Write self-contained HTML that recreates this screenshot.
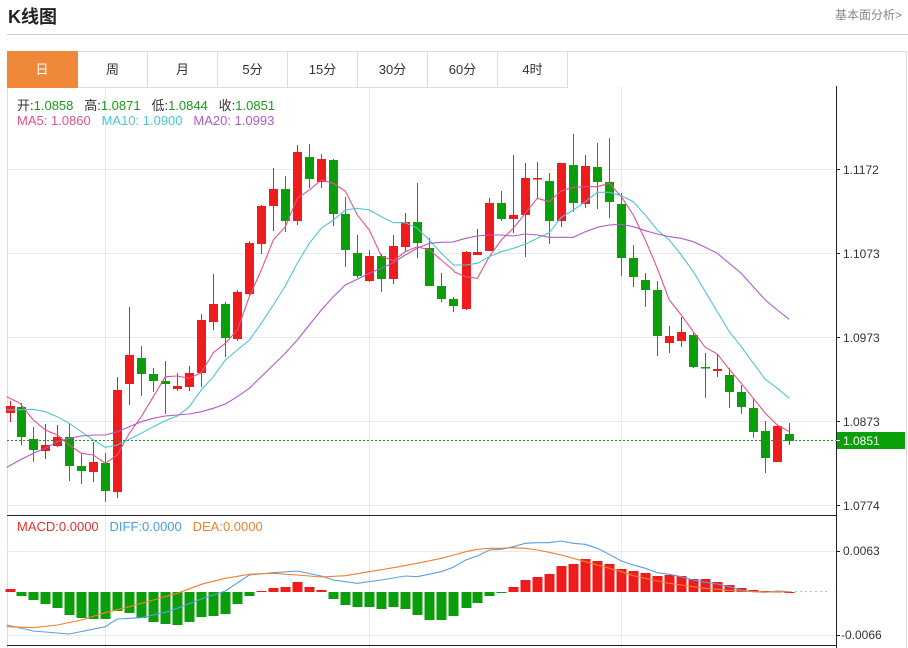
<!DOCTYPE html>
<html><head><meta charset="utf-8">
<style>
body{margin:0;width:908px;height:648px;overflow:hidden;background:#fff;font-family:"Liberation Sans","Noto Sans CJK SC",sans-serif;position:relative}
.t{position:absolute;left:8px;top:3px;font-size:18px;font-weight:bold;color:#222}
.r{position:absolute;right:6px;top:6px;font-size:12px;color:#888}
.hl{position:absolute;left:7px;right:0;top:34px;border-top:1px solid #ccc}
.tabs{position:absolute;left:7px;top:51px;height:35px;display:flex}
.tabs div{width:69px;height:35px;border:1px solid #ddd;border-left:none;line-height:35px;text-align:center;font-size:13px;color:#333}
.tabs div.a{background:#f0883a;color:#fff;border-color:#f0883a;width:70px}
.lg{position:absolute;left:17px;font-size:13px;white-space:nowrap}
</style></head><body>
<div class="t">K线图</div><div class="r">基本面分析&gt;</div><div class="hl"></div>
<svg id="s" width="908" height="648" style="position:absolute;left:0;top:0">
<rect x="7.5" y="51.5" width="899" height="600" fill="none" stroke="#ddd"/>
<g stroke="#e6e9ee" stroke-width="1">
<line x1="7" y1="169.5" x2="836" y2="169.5"/><line x1="7" y1="253.5" x2="836" y2="253.5"/>
<line x1="7" y1="337.5" x2="836" y2="337.5"/><line x1="7" y1="421.5" x2="836" y2="421.5"/>
<line x1="7" y1="505.5" x2="836" y2="505.5"/>
<line x1="7" y1="551.5" x2="836" y2="551.5"/><line x1="7" y1="635.5" x2="836" y2="635.5"/>
<line x1="105.5" y1="86" x2="105.5" y2="648"/><line x1="369.5" y1="86" x2="369.5" y2="648"/><line x1="621.5" y1="86" x2="621.5" y2="648"/>
</g>
<line x1="7" y1="515.5" x2="836" y2="515.5" stroke="#222"/>
<line x1="7" y1="645.5" x2="836" y2="645.5" stroke="#222"/>
<line x1="836.5" y1="86" x2="836.5" y2="648" stroke="#222"/>
<g id="cd"></g>
<g id="ml"></g>
<line x1="7" y1="440.5" x2="836" y2="440.5" stroke="#1a9c1a" stroke-dasharray="2,2"/>
<g stroke="#222"><line x1="836" y1="169.5" x2="840" y2="169.5"/><line x1="836" y1="253.5" x2="840" y2="253.5"/><line x1="836" y1="337.5" x2="840" y2="337.5"/><line x1="836" y1="421.5" x2="840" y2="421.5"/><line x1="836" y1="505.5" x2="840" y2="505.5"/><line x1="836" y1="551.5" x2="840" y2="551.5"/><line x1="836" y1="635.5" x2="840" y2="635.5"/></g>
<g font-size="12" fill="#333" font-family="Liberation Sans,sans-serif">
<text x="843" y="174">1.1172</text><text x="843" y="258">1.1073</text><text x="843" y="342">1.0973</text><text x="843" y="426">1.0873</text><text x="843" y="510">1.0774</text>
<text x="843" y="555">0.0063</text><text x="841" y="639">-0.0066</text></g>
<rect x="837" y="432" width="68" height="17" fill="#0aa00a"/>
<line x1="836" y1="440.5" x2="840" y2="440.5" stroke="#fff"/>
<text x="843" y="445" font-size="12" fill="#fff">1.0851</text>
</svg>
<div class="tabs"><div class="a">日</div><div>周</div><div>月</div><div>5分</div><div>15分</div><div>30分</div><div>60分</div><div>4时</div></div>
<div class="lg" style="top:95px;color:#333">开:<span style="color:#1a9c1a">1.0858</span>&nbsp;&nbsp; 高:<span style="color:#1a9c1a">1.0871</span>&nbsp;&nbsp; 低:<span style="color:#1a9c1a">1.0844</span>&nbsp;&nbsp; 收:<span style="color:#1a9c1a">1.0851</span></div>
<div class="lg" style="top:113px"><span style="color:#e8508a">MA5: 1.0860</span>&nbsp;&nbsp; <span style="color:#4ec5d4">MA10: 1.0900</span>&nbsp;&nbsp; <span style="color:#b05cc8">MA20: 1.0993</span></div>
<div class="lg" style="top:519px"><span style="color:#e03030">MACD:0.0000</span>&nbsp;&nbsp; <span style="color:#4a9ee0">DIFF:0.0000</span>&nbsp;&nbsp; <span style="color:#f08030">DEA:0.0000</span></div>
<script>
var C=[[10,1,406,413,401,422],[21,0,407,437,403,445],[33,0,439,450,427,462],[45,1,445,451,424,459],[57,1,437,446,425,447],[69,0,437,466,424,481],[81,0,466,471,453,484],[93,1,462,472,442,482],[105,0,463,491,453,502],[117,1,390,492,377,498],[129,1,355,384,307,405],[141,0,358,374,346,396],[153,0,374,381,368,392],[165,0,381,384,361,414],[177,1,386,389,373,391],[189,1,373,387,366,391],[201,1,320,373,314,387],[213,1,304,322,274,330],[225,0,304,338,302,357],[237,1,292,339,290,341],[249,1,243,294,241,295],[261,1,206,244,205,254],[273,1,189,206,168,231],[285,0,189,221,176,232],[297,1,152,221,145,225],[309,0,157,179,144,188],[321,1,159,182,154,188],[333,0,160,214,159,226],[345,0,214,250,197,267],[357,0,253,276,235,278],[369,1,256,281,250,282],[381,0,256,279,254,292],[393,1,246,279,235,284],[405,1,222,247,213,252],[417,0,222,243,183,258],[429,0,248,286,238,286],[441,0,286,299,273,302],[453,0,299,306,297,312],[466,1,252,309,251,310],[477,1,252,255,229,255],[489,1,203,251,198,251],[501,0,203,219,191,221],[513,1,215,219,155,233],[525,1,178,215,163,257],[537,1,178,179,162,198],[549,0,181,221,173,244],[561,1,163,221,163,227],[573,0,165,203,134,212],[585,1,166,204,155,208],[597,0,167,182,143,209],[609,0,182,202,138,218],[621,0,204,258,193,276],[633,0,258,277,245,287],[645,0,280,290,273,307],[657,0,290,336,281,356],[669,1,336,343,326,353],[681,1,332,341,317,347],[693,0,335,367,333,368],[705,0,367,368,353,398],[717,1,369,371,354,377],[729,0,375,392,368,408],[741,0,392,407,385,414],[753,0,408,432,398,438],[765,0,431,458,421,473],[777,1,426,462,425,462],[789,0,434,441,423,445]];
var H=[589,596,600,604,608,615,618,619,619,611,613,618,622,624,625,622,617,616,614,604,596,591,588,587,582,587,590,599,605,607,607,609,607,609,615,620,620,616,608,603,596,593,587,580,577,574,566,564,559,561,564,569,571,573,576,575,576,579,579,582,585,588,590,591,591.5,592];
var s='';
C.forEach(function(c,i){var col=c[1]?'#ee1c1c':'#0a9e0a';
s+='<line x1="'+(c[0]+.5)+'" y1="'+c[4]+'" x2="'+(c[0]+.5)+'" y2="'+c[5]+'" stroke="'+col+'"/>';
s+='<rect x="'+(c[0]-4)+'" y="'+c[2]+'" width="9" height="'+Math.max(1.5,c[3]-c[2])+'" fill="'+col+'"/>';
var h=H[i],z=592,hc=h<z?'#ee1c1c':'#0a9e0a';
if(i>=21&&i<=26||i>=42)hc='#ee1c1c'; if(i==0)hc='#ee1c1c';
s+='<rect x="'+(c[0]-4.5)+'" y="'+Math.min(h,z)+'" width="10" height="'+Math.max(1,Math.abs(h-z))+'" fill="'+hc+'"/>';
});
document.getElementById('cd').innerHTML=s;
function P(pts,ox,oy){var a=[];for(var i=0;i<pts.length;i+=2)a.push((ox+pts[i]/3).toFixed(1)+','+(oy+pts[i+1]/3).toFixed(1));return a.join(' ');}
var L=[
['#e8508a',[20,800,60,820,100,870,136,900,172,915,208,945,244,970,280,975,316,1000,352,975,388,910,424,860,460,800,496,740,532,738,568,745,604,728,640,668,676,640,712,600,748,500,784,420,820,330,856,290,892,205,928,180,964,150,1000,160,1036,183,1072,255,1108,300,1144,378,1180,392,1216,365,1252,350,1288,360,1324,390,1362,422],[0,425,35,440,70,445,106,380,142,330,178,295,214,250,250,205,286,215,322,182,358,172,394,170,430,170,466,160,502,200,538,255,574,330,610,415,646,510,682,555,718,605,754,652,790,672,826,718,862,760,898,805,934,850,970,885,1006,905],0],
['#4ec5d4',[20,840,100,838,136,845,172,860,208,880,244,905,280,930,316,952,352,945,388,928,424,910,460,890,496,872,532,858,568,830,604,780,640,740,676,690,712,660,748,630,784,580,820,525,856,468,892,400,928,340,964,295,1000,270,1036,240,1072,235,1108,240,1144,260,1180,278,1216,278,1252,295,1288,330,1324,370,1362,406],[0,405,35,405,70,400,106,380,142,365,178,355,214,343,250,325,286,308,322,262,358,240,394,215,430,187,466,187,502,197,538,215,574,255,610,300,646,330,682,375,718,425,754,485,790,545,826,605,862,650,898,700,934,748,970,775,1006,805],0],
['#b05cc8',[20,1012,60,990,100,970,136,955,172,935,208,925,244,918,280,915,316,915,352,905,388,890,424,875,460,865,496,858,532,855,568,852,604,845,640,835,676,822,712,800,748,775,784,740,820,705,856,670,892,630,928,585,964,540,1000,500,1036,465,1072,448,1108,430,1144,415,1180,398,1216,375,1252,355,1288,340,1324,337,1362,336],[0,335,35,325,70,318,106,315,142,315,178,318,214,312,250,315,286,322,322,322,358,322,394,305,430,292,466,285,502,283,538,290,574,302,610,312,646,320,682,325,718,335,754,352,790,370,826,400,862,430,898,470,934,510,970,540,1006,568],0],
['#5a9ee0',[20,360,100,378,208,387,316,365,352,342,424,338,496,322,532,310,604,282,676,258,748,210,820,203,892,198,964,213,1000,225,1072,235,1144,225,1216,213,1252,215,1324,200,1362,186],[0,185,35,165,70,153,106,135,142,133,178,125,214,115,250,113,286,113,322,108,358,115,394,118,430,130,466,148,502,168,538,180,574,190,610,203,646,208,682,215,718,225,754,232,790,237,826,245,862,255,898,260,934,262,970,258,1006,260],1],
['#f08030',[20,365,100,368,172,360,244,345,316,323,388,305,460,285,532,265,604,238,676,220,748,208,820,205,892,210,964,216,1036,212,1108,200,1180,188,1252,175,1324,160,1362,150],[0,150,35,140,70,133,106,130,142,130,178,128,214,130,250,135,286,142,322,150,358,160,394,170,430,180,466,190,502,200,538,212,574,220,610,228,646,235,682,240,718,245,754,250,790,253,826,256,862,258,898,260,934,261,970,260,1006,260],1]];
var m='';
L.forEach(function(l){var oy=l[3]?505:130;m+='<polyline fill="none" stroke="'+l[0]+'" stroke-width="1.1" points="'+P(l[1],0,oy)+' '+P(l[2],454,oy)+'"/>';});
m+='<line x1="790" y1="591.5" x2="830" y2="591.5" stroke="#9cc8ee" stroke-dasharray="2,3"/>';
document.getElementById('ml').innerHTML=m;
</script>
</body></html>
